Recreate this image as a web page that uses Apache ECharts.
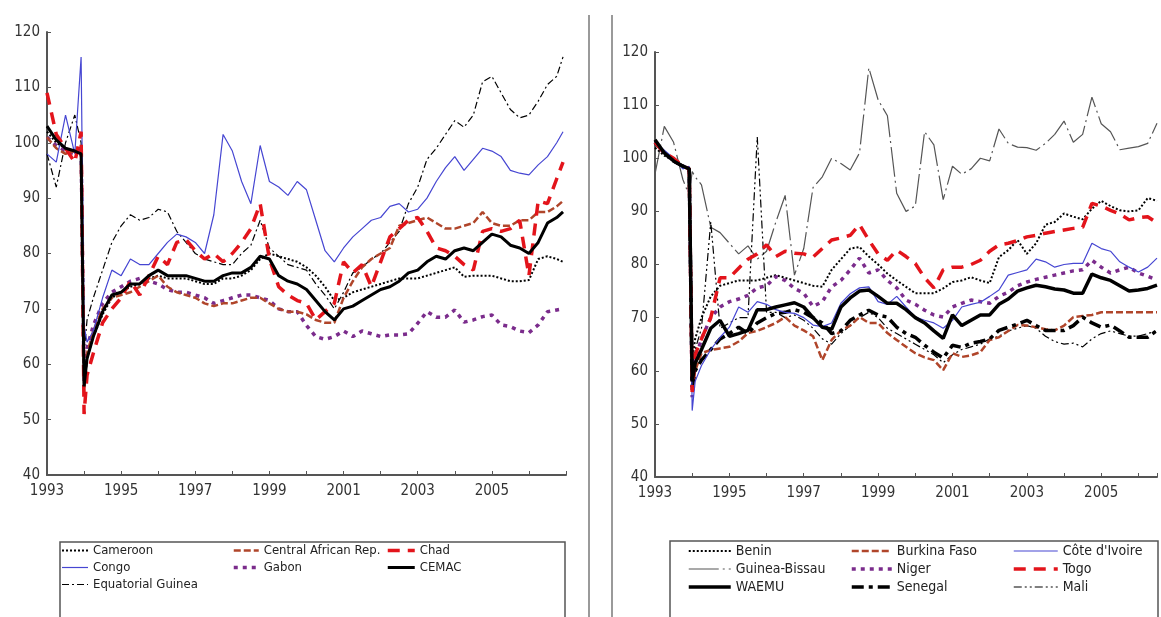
<!DOCTYPE html>
<html><head><meta charset="utf-8">
<script src="https://cdn.jsdelivr.net/npm/echarts@6.0.0/dist/echarts.min.js"></script>
<style>html,body{margin:0;padding:0;background:#fff}#c{width:1161px;height:617px}</style>
</head><body><div id="c"></div><script>
// x positions (decimal years): 1993 (5 pts), 1994 (5 pts), quarterly 1995..2006.75, 2006.92
const dates = [1993,1993.25,1993.5,1993.75,1993.92, 1994,1994.08,1994.25,1994.5,1994.75,
 1995,1995.25,1995.5,1995.75, 1996,1996.25,1996.5,1996.75, 1997,1997.25,1997.5,1997.75,
 1998,1998.25,1998.5,1998.75, 1999,1999.25,1999.5,1999.75, 2000,2000.25,2000.5,2000.75,
 2001,2001.25,2001.5,2001.75, 2002,2002.25,2002.5,2002.75, 2003,2003.25,2003.5,2003.75,
 2004,2004.25,2004.5,2004.75, 2005,2005.25,2005.5,2005.75, 2006,2006.25,2006.5,2006.75,2006.92];
const yearTicksLeft = [1993,1995,1997,1999,2001,2003,2005];
const yearTicksRight = [1993,1995,1997,1999,2001,2003,2005];

// ---- CEMAC panel (59 values each) ----
const cameroon = [102,100,99,98.5,98.5, 56,61,65,69,72, 73,74,74.5,75.5, 76,75.5,75.5,75.5, 75,74.5,74.5,75.5, 75.5,76,77,79, 80,79.5,79,78.5, 77.5,76,74,71.5, 72,73,73.5,74, 74.5,75,75.5,75.5, 75.5,76,76.5,77, 77.5,75.8,76,76, 76,75.5,75,75, 75.2,79,79.5,79,78.5];
const car = [101,99,98,98.5,99, 55,62,66,70,72, 72.5,73,74,75, 76,74,73,72.5, 72,71,70.5,71, 71,71.5,72,72, 71,70,69.5,69.5, 69,68,67.5,67.5, 72,75,77.5,79, 80,81,85,85.5, 86,86.5,85.5,84.5, 84.5,85,85.5,87.5, 85.5,85,85,86, 86,87.5,87.5,88.5,89.5];
const chad = [109,101.5,99,96.5,102, 51,58,62,67.5,70, 72,75,72.5,76, 79.5,78,82,82.5, 80.5,79,80,78.5, 80,82,84.5,89, 79,74,72.5,71.5, 71,68,69.5,71, 78.5,76.5,78,74, 78.5,83,84.5,86, 86.5,84,81,80.5, 79.5,78,77,84, 84.5,84,84.5,86, 76,89.5,89,93.5,96.5];
const congo = [98,96.5,105,98,115.5, 67,64,66,72,77, 76,79,78,78, 80,82,83.5,83, 82,80,87,101.5, 98.5,93,89,99.5, 93,92,90.5,93, 91.5,86,80.5,78.5, 81,83,84.5,86, 86.5,88.5,89,87.5, 88,90,93,95.5, 97.5,95,97,99, 98.5,97.5,95,94.5, 94.2,96,97.5,100,102];
const gabon = [101,99.5,98.5,98,99, 57,63,67,71,73, 74,75,75.5,75, 74.5,73.5,73,73, 72.5,72,71,71.5, 72,72.5,72.5,72, 71.5,70,69.5,69.5, 67,65,64.5,65, 66,65,66,65.5, 65,65.3,65.3,65.5, 67.4,69.5,68.5,68.5, 69.8,67.6,68,68.6, 68.9,67.1,66.8,66, 65.7,67.1,69.5,69.8,70];
const cemac = [103,100.5,99,98.5,98, 56,61,65,69.5,72.5, 73,74.5,74.5,76, 77,76,76,76, 75.5,75,75,76, 76.5,76.5,77.5,79.5, 79,76,75,74.5, 73.5,71.5,69.5,68, 70,70.5,71.5,72.5, 73.5,74,75,76.5, 77,78.5,79.5,79, 80.5,81,80.5,82, 83.5,83,81.5,81, 80,82,85.5,86.5,87.5];
const eqGuinea = [98,92,100,105,100, 62,68,72,77,82, 85,87,86,86.5, 88,87.5,84,82, 80,79,78.5,78, 78,80,81.5,86, 81,79.5,78,77.5, 77,74.5,72.5,70, 73,76.5,77.5,79, 80,82,84,89, 92,97,99,101.5, 104,102.8,105,111, 112,109,106,104.5, 105,107.5,110.5,112,115.5];

// ---- WAEMU panel (57 values each, to mid-2006) ----
const benin = [102,100.5,99.5,98.5,98, 62,66,70,74,76, 76.5,77,77,77, 77.5,78,77.5,77, 76.5,76,75.8,79, 81,83,83.3,81.5, 80,78.3,77,75.8, 74.6,74.6,74.6,75.5, 76.7,77,77.6,77, 76.5,81.4,82.7,84.6, 82,84,87.5,88, 89.6,89,88.5,90.5, 92,91,90.2,90, 90.2,92.5,92];
const burkina = [103,101,99.5,98.5,98, 56,60,63.3,63.9,64.2, 64.5,65.5,67.1,67.5, 68.2,69,70.1,68.5, 67.6,66.5,62,65.8, 67.6,68.5,70.1,69, 69,67.1,65.8,64.5, 63.3,62.5,62,60.1, 63.3,62.6,62.9,63.5, 65.8,66.3,67.5,68.6, 68.5,68.2,67.8,67.6, 68.5,70.1,70.3,70.5, 71,71,71,71, 71,71,71];
const cdi = [103,101.5,100,98,98.5, 52.5,58,61,64,66.3, 68.2,72,71,73, 72.5,71.5,71,70.8, 70,68.6,68.3,69, 72.7,74.5,75.6,75.8, 73,72.5,74,72, 70.1,69.5,69,68, 69.5,72,72.5,72.9, 74,75.2,78,78.5, 79,81,80.5,79.5, 80,80.2,80.2,84, 83,82.5,80.5,79.5, 78.6,79.5,81.2];
const guineaBissau = [97,106,103,96,93, 97.5,96.5,95,87,86, 84,82,83.5,81, 82.5,88,93,78, 83,94.5,96.5,100, 99,97.8,101,117, 111,108,93.4,90, 91,105,102.5,92.2, 98.5,97,98,100, 99.5,105.5,102.8,102.1, 102,101.5,102.8,104.5, 107,103,104.5,111.5, 106.5,105,101.6,101.9, 102.2,102.8,106.6];
const niger = [103,101,99.5,98.5,98, 55,62,66,70,72, 73,73.5,74.2,75.6, 76,77.7,77,75.5, 74.6,72.1,73,75.8, 77,79,81.2,78.4, 79,77,75.6,73.3, 72.5,71.4,70.5,70.1, 72,72.7,73.3,73, 72.7,74,74.8,76, 76.7,77.2,77.6,78, 78.4,78.8,79,80.8, 79.5,78.4,79,79.5, 78.4,77.8,77.1];
const togo = [103,101,100,98.5,98, 56,63,66,70,77.5, 77.5,79.3,81,82, 83.7,81.5,82.5,82.1, 82,81.4,83,84.6, 85,85.5,87.5,84.6, 82,80.8,82.7,81.5, 80.2,77.5,75.6,79, 79.5,79.5,80,80.8, 82.5,83.7,84,84.5, 85.2,85.5,85.9,86.2, 86.5,86.8,87,91.5, 91,90.2,89.5,88.4, 88.8,89,87.8];
const waemu = [103.5,101,99.5,98.5,98, 58,61.4,64,68,69.5, 66.5,67,67.6,71.5, 71.5,72,72.4,72.8, 72,70,68.2,67.8, 72,73.7,75,75.2, 74,72.7,72.7,71.5, 70,69,67.5,66.1, 70.5,68.5,69.5,70.5, 70.5,72.5,73.5,75, 75.6,76.1,75.8,75.4, 75.2,74.6,74.6,78.2, 77.5,77,76,75, 75.2,75.5,76.1];
const senegal = [103,101,99.5,98.5,98, 57,60,62,64,66, 67,68.2,67,69, 70,70.8,71,71.5, 71,70,69,67, 67.5,69.5,70.5,71.4, 70.5,70.1,68.2,67, 66.3,64.8,63.5,62.4, 64.8,64.4,65.2,65.5, 66,67.6,68.2,68.8, 69.5,68.5,67.6,67.6, 67.6,68.5,70.1,69, 68.2,68.6,67.5,66.3, 66.3,66.3,67.6];
const mali = [103,101,99.5,98.5,98, 60,64,68,88,68, 69,70,70,104, 71,71,70,70.5, 69.5,68,66,65, 67,68.5,70,71, 70,68,67,66, 65,64,63,61.5, 63,64,64.5,65, 66,66.5,67.5,68, 68.5,68,66.5,65.5, 65,65.2,64.5,66, 67,67.5,67,66.5, 66.5,67,67.5];

const FONT = "'Liberation Sans Narrow','Arial Narrow','DejaVu Sans Condensed','Liberation Sans',sans-serif";
const BLUE='#4646d2', RED='#e3141b', BROWN='#b0452a', PURPLE='#7b2c8c', BLACK='#000', GRAY='#555';
const CLEAR='rgba(0,0,0,0)';

const styles = {
  'Cameroon': {color:BLACK, width:2, type:[2,2]},
  'Central African Rep.': {color:BROWN, width:2.5, type:[7,3]},
  'Chad': {color:RED, width:3.5, type:[12,8]},
  'Congo': {color:BLUE, width:1.2, type:'solid'},
  'Gabon': {color:PURPLE, width:3.5, type:[4,5]},
  'CEMAC': {color:BLACK, width:3, type:'solid'},
  'Equatorial Guinea': {color:BLACK, width:1.2, type:[7,3,2,3]},
  'Benin': {color:BLACK, width:2, type:[2,2]},
  'Burkina Faso': {color:BROWN, width:2.5, type:[7,3]},
  "Côte d'Ivoire": {color:BLUE, width:1.2, type:'solid'},
  'Guinea-Bissau': {color:GRAY, width:1.2, type:[30,4,2,4]},
  'Niger': {color:PURPLE, width:3.5, type:[4,5]},
  'Togo': {color:RED, width:3.5, type:[12,8]},
  'WAEMU': {color:BLACK, width:3.5, type:'solid'},
  'Senegal': {color:BLACK, width:3.5, type:[12,5,4,5]},
  'Mali': {color:BLACK, width:1.2, type:[8,3,2,3,2,3]}
};

function mk(name, arr, gi, z) {
  const s = styles[name];
  return {type:'line', name, xAxisIndex:gi, yAxisIndex:gi, z,
    data: arr.map((v,i)=>[dates[i], v]), symbol:'none', showSymbol:false, silent:true,
    lineStyle:{color:s.color, width:s.width, type:s.type}, itemStyle:{color:s.color}};
}
function xAx(gi, max, ticks) {
  return {type:'value', gridIndex:gi, min:1993, max, interval:1,
    axisLine:{show:true, lineStyle:{color:'#555', width:2}},
    axisTick:{show:true, inside:true, length:4, lineStyle:{color:'#555'}},
    axisLabel:{color:'#333', fontSize:15, fontFamily:FONT, margin:9,
      formatter: v => ticks.indexOf(v) >= 0 ? String(v) : ''},
    splitLine:{show:false}};
}
function yAx(gi) {
  return {type:'value', gridIndex:gi, min:40, max:120, interval:10,
    axisLine:{show:true, lineStyle:{color:'#555', width:2}},
    axisTick:{show:true, inside:true, length:4, lineStyle:{color:'#555'}},
    axisLabel:{color:'#333', fontSize:15, fontFamily:FONT, margin:7},
    splitLine:{show:false}};
}
function leg(left, names, iw, fs) {
  return {left, top:544, orient:'vertical', itemWidth:iw, itemHeight:14, itemGap:4, padding:0,
    selectedMode:false,
    itemStyle:{color:CLEAR, borderColor:CLEAR, borderWidth:0},
    data: names.map(n => ({name:n,
      itemStyle:{color:CLEAR, borderColor:CLEAR, borderWidth:0},
      lineStyle:{color:styles[n].color, width:Math.min(styles[n].width,3.5), type:styles[n].type}})),
    textStyle:{fontSize:fs, fontFamily:FONT, color:'#222'}};
}

const option = {
  animation:false,
  backgroundColor:'#fff',
  grid:[{left:47, top:32, width:519, height:443}, {left:655, top:52, width:502, height:425}],
  xAxis:[xAx(0, 2007, yearTicksLeft), xAx(1, 2006.5, yearTicksRight)],
  yAxis:[yAx(0), yAx(1)],
  legend:[
    leg(61, ['Cameroon','Congo','Equatorial Guinea'], 26, 13),
    leg(232, ['Central African Rep.','Gabon'], 25, 13),
    leg(386, ['Chad','CEMAC'], 27, 13),
    leg(687, ['Benin','Guinea-Bissau','WAEMU'], 42, 14),
    leg(850, ['Burkina Faso','Niger','Senegal'], 40, 14),
    leg(1012, ["Côte d'Ivoire",'Togo','Mali'], 44, 14)
  ],
  graphic:[
    {type:'line', shape:{x1:589,y1:15,x2:589,y2:617}, style:{stroke:'#9a9a9a', lineWidth:2}},
    {type:'line', shape:{x1:612,y1:15,x2:612,y2:617}, style:{stroke:'#9a9a9a', lineWidth:2}},
    {type:'rect', shape:{x:60,y:542,width:505,height:90}, style:{fill:'none', stroke:'#555', lineWidth:1.5}},
    {type:'rect', shape:{x:670,y:541,width:488,height:90}, style:{fill:'none', stroke:'#555', lineWidth:1.5}}
  ],
  series:[
    mk('Equatorial Guinea', eqGuinea, 0, 2),
    mk('Cameroon', cameroon, 0, 3),
    mk('Gabon', gabon, 0, 4),
    mk('Central African Rep.', car, 0, 5),
    mk('Congo', congo, 0, 6),
    mk('Chad', chad, 0, 7),
    mk('CEMAC', cemac, 0, 8),
    mk('Guinea-Bissau', guineaBissau, 1, 2),
    mk('Mali', mali, 1, 3),
    mk('Benin', benin, 1, 4),
    mk('Burkina Faso', burkina, 1, 5),
    mk('Niger', niger, 1, 6),
    mk('Senegal', senegal, 1, 7),
    mk("Côte d'Ivoire", cdi, 1, 8),
    mk('Togo', togo, 1, 9),
    mk('WAEMU', waemu, 1, 10)
  ]
};
const chart = echarts.init(document.getElementById('c'), null, {renderer:'canvas'});
chart.setOption(option);
</script></body></html>
